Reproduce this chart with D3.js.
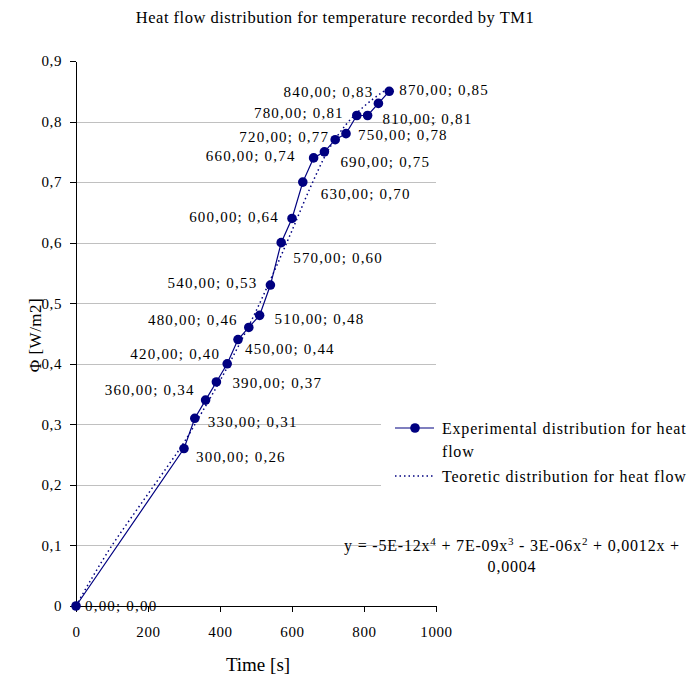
<!DOCTYPE html>
<html lang='en'>
    <head>
        <meta charset='utf-8'>
        <title>Heat flow distribution for temperature recorded by TM1</title>
        <script src="https://d3js.org/d3.v7.min.js" charset='utf-8'></script>
        <style type='text/css'>
            body { margin: 0; background: #fff; }
            svg { display: block; font-family: 'Liberation Serif', 'Times New Roman', serif; }
            .grid line { stroke: #c0c0c0; stroke-width: 1; }
            .axis path, .axis line { stroke: #000; stroke-width: 1; shape-rendering: crispEdges; }
            .axis text { fill: #000; letter-spacing: 0.6px; }
            .lbl { font-size: 15px; fill: #000; letter-spacing: 1.2px; }
            .leg { font-size: 16px; fill: #000; letter-spacing: 0.8px; }
        </style>
    </head>
    <body>
        <script type='text/javascript'>
            // measured series (time [s], heat flow [W/m2])
            var times = [0, 300, 330, 360, 390, 420, 450, 480, 510, 540, 570, 600, 630, 660, 690, 720, 750, 780, 810, 840, 870];
            var flows = [0, 0.26, 0.31, 0.34, 0.37, 0.40, 0.44, 0.46, 0.48, 0.53, 0.60, 0.64, 0.70, 0.74, 0.75, 0.77, 0.78, 0.81, 0.81, 0.83, 0.85];
            // polynomial trend
            var trendX = [0, 50, 100, 150, 200, 250, 300, 350, 400, 450, 500, 550, 600, 650, 700, 750, 800, 850, 870];
            var trendY = [0, 0.052, 0.100, 0.143, 0.185, 0.227, 0.270, 0.320, 0.372, 0.428, 0.487, 0.552, 0.620, 0.690, 0.752, 0.795, 0.825, 0.848, 0.856];
            var xTicks = [0, 200, 400, 600, 800, 1000];
            var yTicks = [0, 0.1, 0.2, 0.3, 0.4, 0.5, 0.6, 0.7, 0.8, 0.9];

            // label placement next to each point [dx, dy]; negative dx = text on the left
            var labelOff = [[9, 0], [12, 8], [13, 3], [-11, -10], [16, 1], [-7, -10], [7, 9], [-11, -8], [15, 3], [-13, -2],
                [12, 15], [-13, -2], [18, 12], [-18, -2], [16, 10], [-6, -3], [12, 1], [-13, -3], [15, 3], [-5, -12], [10, -2]];

            var W = 694, H = 675;
            var serif = "'Liberation Serif', 'Times New Roman', serif";
            var svg = d3.select('body').append('svg')
                .attr('width', W)
                .attr('height', H);

            var x = d3.scaleLinear().domain([0, 1000]).range([76, 436]);
            var y = d3.scaleLinear().domain([0, 0.9]).range([606, 61]);
            var fmt = function(v) { return d3.format('.2f')(v).replace('.', ','); };
            var tickFmt = function(v) { return String(+v.toFixed(1)).replace('.', ','); };

            // gridlines
            svg.append('g').attr('class', 'grid')
                .selectAll('line')
                .data(yTicks.filter(function(d) { return d > 0 && d < 0.9; }))
                .join('line')
                .attr('x1', x(0)).attr('x2', x(1000))
                .attr('y1', function(d) { return Math.round(y(d)) + 0.5; })
                .attr('y2', function(d) { return Math.round(y(d)) + 0.5; });

            // title
            svg.append('text')
                .attr('x', 335).attr('y', 23)
                .attr('text-anchor', 'middle')
                .style('font-size', '16.5px')
                .style('letter-spacing', '0.5px')
                .text('Heat flow distribution for temperature recorded by TM1');

            // trend (dotted)
            var pts = trendX.map(function(d, i) { return [d, trendY[i]]; });
            svg.append('path')
                .datum(pts)
                .attr('fill', 'none')
                .attr('stroke', '#000080')
                .attr('stroke-width', 1.5)
                .attr('stroke-dasharray', '1.5,3')
                .attr('d', d3.line().curve(d3.curveMonotoneX)
                    .x(function(d) { return x(d[0]); })
                    .y(function(d) { return y(d[1]); }));

            // data labels
            svg.append('g').selectAll('text')
                .data(times)
                .join('text')
                .attr('class', 'lbl')
                .attr('x', function(d, i) { return x(d) + labelOff[i][0]; })
                .attr('y', function(d, i) { return y(flows[i]) + labelOff[i][1]; })
                .attr('dy', '0.35em')
                .attr('text-anchor', function(d, i) { return labelOff[i][0] < 0 ? 'end' : 'start'; })
                .text(function(d, i) { return fmt(d) + '; ' + fmt(flows[i]); });

            // legend box hides the grid on the right
            svg.append('rect')
                .attr('x', 381).attr('y', 404)
                .attr('width', W - 381).attr('height', 90)
                .attr('fill', '#fff');

            // axes
            var xAxis = svg.append('g').attr('class', 'axis')
                .attr('transform', 'translate(0,' + y(0) + ')')
                .call(d3.axisBottom(x).tickValues(xTicks).tickSize(6).tickSizeOuter(0).tickPadding(14)
                    .tickFormat(function(d) { return d; }));
            var yAxis = svg.append('g').attr('class', 'axis')
                .attr('transform', 'translate(' + x(0) + ',0)')
                .call(d3.axisLeft(y).tickValues(yTicks).tickSize(6).tickSizeOuter(0).tickPadding(8)
                    .tickFormat(tickFmt));
            [xAxis, yAxis].forEach(function(g) {
                g.attr('font-family', serif).attr('font-size', 15);
                g.selectAll('text').style('font-family', serif).style('font-size', '15px');
            });

            // measured series
            var line = d3.line()
                .x(function(d, i) { return x(d); })
                .y(function(d, i) { return y(flows[i]); });
            svg.append('path')
                .datum(times)
                .attr('fill', 'none')
                .attr('stroke', '#000080')
                .attr('stroke-width', 1.2)
                .attr('d', line);
            svg.append('g').selectAll('circle')
                .data(times)
                .join('circle')
                .attr('cx', function(d) { return x(d); })
                .attr('cy', function(d, i) { return y(flows[i]); })
                .attr('r', 4.8)
                .attr('fill', '#000080');

            // axis titles
            svg.append('text')
                .attr('x', 258).attr('y', 671)
                .attr('text-anchor', 'middle')
                .style('font-size', '19px')
                .text('Time [s]');
            svg.append('text')
                .attr('transform', 'translate(41,335) rotate(-90)')
                .attr('text-anchor', 'middle')
                .style('font-size', '17px')
                .style('letter-spacing', '0.5px')
                .text('\u03A6 [W/m2]');

            // legend
            var lg = svg.append('g').attr('class', 'leg');
            lg.append('line').attr('x1', 395).attr('x2', 434).attr('y1', 428).attr('y2', 428)
                .attr('stroke', '#000080').attr('stroke-width', 1.2);
            lg.append('circle').attr('cx', 415).attr('cy', 428).attr('r', 4.8).attr('fill', '#000080');
            lg.append('text').attr('x', 442).attr('y', 428).attr('dy', '0.35em')
                .text('Experimental distribution for heat');
            lg.append('text').attr('x', 442).attr('y', 451).attr('dy', '0.35em')
                .text('flow');
            lg.append('line').attr('x1', 395).attr('x2', 434).attr('y1', 476).attr('y2', 476)
                .attr('stroke', '#000080').attr('stroke-width', 1.5).attr('stroke-dasharray', '1.5,3');
            lg.append('text').attr('x', 442).attr('y', 476).attr('dy', '0.35em')
                .text('Teoretic distribution for heat flow');

            // trend equation
            var eq = svg.append('text').attr('class', 'leg')
                .attr('x', 512).attr('y', 551).attr('text-anchor', 'middle');
            var parts = [['y = -5E-12x', ''], ['4', 'sup'], [' + 7E-09x', ''], ['3', 'sup'], [' - 3E-06x', ''], ['2', 'sup'], [' + 0,0012x +', '']];
            parts.forEach(function(p) {
                var t = eq.append('tspan').text(p[0]);
                if (p[1] === 'sup') t.attr('dy', -6).style('font-size', '11px');
                else t.attr('dy', p === parts[0] ? 0 : 6);
            });
            svg.append('text').attr('class', 'leg')
                .attr('x', 512).attr('y', 572).attr('text-anchor', 'middle')
                .text('0,0004');
        </script>
    </body>
</html>
